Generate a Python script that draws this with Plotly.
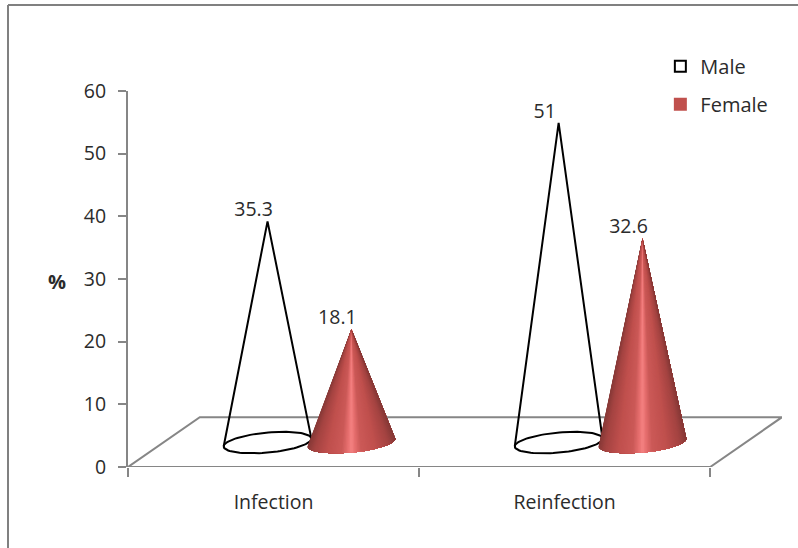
import numpy as np
import plotly.graph_objects as go

categories = ["Infection", "Reinfection"]
male = [35.3, 51]
female = [18.1, 32.6]
y_ticks = [0, 10, 20, 30, 40, 50, 60]

AXIS = "#868686"
TEXT = "#2b2b2b"
FONT = "Open Sans"
FS = 19.5

# pseudo-3D geometry, in axis units
DEPTH_X, DEPTH_Y = 0.2466, 7.95
SERIES_OFF = 0.144
HALF_W = 0.1507
ELL_B, ELL_K = 1.6, 0.62
LABEL_DX = -0.048
N = 90

centers = [i + 0.5 + DEPTH_X / 2 for i in range(len(categories))]
male_x = [c - SERIES_OFF for c in centers]
female_x = [c + SERIES_OFF for c in centers]
base_y = 3.9


def ellipse(cx, t):
    return cx + HALF_W * np.cos(t), base_y - ELL_B * np.sin(t) + ELL_K * np.cos(t)


STOPS_U = [0.0, 0.08, 0.22, 0.55, 0.85, 1.0]
STOPS_C = [(245, 130, 130), (232, 112, 112), (204, 90, 88), (192, 80, 77), (165, 68, 66), (136, 58, 56)]


def shade(u):
    a = abs(u)
    rgb = [np.interp(a, STOPS_U, [c[i] for c in STOPS_C]) for i in range(3)]
    return "rgb(%d,%d,%d)" % tuple(int(v) for v in rgb)


fig = go.Figure()

# floor
fig.add_trace(go.Scatter(
    x=[0, DEPTH_X, len(categories) + DEPTH_X, len(categories), 0],
    y=[0, DEPTH_Y, DEPTH_Y, 0, 0],
    mode="lines", line=dict(color=AXIS, width=2), showlegend=False, hoverinfo="skip"))

# male cones (outline only)
for cx, v in zip(male_x, male):
    ts = np.linspace(0, 2 * np.pi, 90)
    ex, ey = ellipse(cx, ts)
    fig.add_trace(go.Scatter(x=ex, y=ey, mode="lines", line=dict(color="black", width=2),
                             showlegend=False, hoverinfo="skip"))
    lx, ly = ellipse(cx, np.pi)
    rx, ry = ellipse(cx, 0.0)
    fig.add_trace(go.Scatter(x=[lx, cx, rx], y=[ly, v + base_y, ry], mode="lines",
                             line=dict(color="black", width=2), showlegend=False, hoverinfo="skip"))

# female cones: painted left to right, each layer covering all that lies to its right
for cx, v in zip(female_x, female):
    ts = np.linspace(np.pi, 0, N + 1)
    for i in range(N):
        xs, ys = ellipse(cx, ts[i:])
        col = shade((np.cos(ts[i]) + np.cos(ts[i + 1])) / 2)
        fig.add_trace(go.Scatter(
            x=[cx, *xs, cx], y=[v + base_y, *ys, v + base_y],
            mode="none", fill="toself", fillcolor=col,
            showlegend=False, hoverinfo="skip"))

# data labels
for xs, vals in ((male_x, male), (female_x, female)):
    fig.add_trace(go.Scatter(
        x=[x + LABEL_DX for x in xs], y=[v + base_y for v in vals],
        mode="text", text=[str(v) for v in vals], textposition="top center",
        textfont=dict(family=FONT, size=FS, color=TEXT), showlegend=False, hoverinfo="skip"))

# front axis line
fig.add_trace(go.Scatter(x=[0, len(categories)], y=[0, 0], mode="lines",
                         line=dict(color=AXIS, width=2), showlegend=False, hoverinfo="skip"))

# legend
fig.add_trace(go.Scatter(x=[None], y=[None], mode="markers", name="Male", legendgroup="m",
                         marker=dict(symbol="square", size=11, color="white",
                                     line=dict(color="black", width=2))))
fig.add_trace(go.Scatter(x=[None], y=[None], mode="markers", name="Female", legendgroup="f",
                         marker=dict(symbol="square", size=13, color="#c0504d")))

fig.update_layout(
    width=798, height=548, autosize=False,
    margin=dict(l=128, r=16, t=91, b=81),
    paper_bgcolor="white", plot_bgcolor="white",
    font=dict(family=FONT, size=FS, color=TEXT),
    xaxis=dict(
        range=[0, len(categories) + DEPTH_X], showgrid=False, zeroline=False, showline=False,
        tickmode="array", tickvals=[i + 0.5 for i in range(len(categories))], ticktext=categories,
        ticks="outside", ticklen=18, tickcolor="rgba(0,0,0,0)", tickfont=dict(family=FONT, size=FS, color=TEXT),
        minor=dict(tickmode="array", tickvals=list(range(len(categories) + 1)),
                   ticks="outside", ticklen=9, tickwidth=2, tickcolor=AXIS, showgrid=False),
    ),
    yaxis=dict(
        range=[0, 60], tickmode="array", tickvals=y_ticks, showgrid=False, zeroline=False,
        showline=True, linecolor=AXIS, linewidth=2,
        ticks="outside", ticklen=8, tickwidth=2, tickcolor=AXIS, ticklabelstandoff=8,
        tickfont=dict(family=FONT, size=FS, color=TEXT),
    ),
    annotations=[dict(text="<b>%</b>", xref="paper", yref="y", x=-71 / 654, y=29.6,
                      xanchor="center", showarrow=False, font=dict(family=FONT, size=20, color=TEXT))],
    legend=dict(x=0.814, xanchor="left", y=1.118, yanchor="top", tracegroupgap=9,
                bgcolor="rgba(0,0,0,0)", font=dict(family=FONT, size=20, color=TEXT)),
    shapes=[
        dict(type="line", xref="paper", yref="paper", x0=-120 / 654, x1=670 / 654,
             y0=(376 + 86) / 376, y1=(376 + 86) / 376, line=dict(color="#808080", width=2)),
        dict(type="line", xref="paper", yref="paper", x0=-120 / 654, x1=-120 / 654,
             y0=-81 / 376, y1=(376 + 86) / 376, line=dict(color="#808080", width=2)),
    ],
)

fig.write_html("out.html", config={"displayModeBar": False},
               post_script="document.body.style.margin='0';document.body.style.overflow='hidden';")
